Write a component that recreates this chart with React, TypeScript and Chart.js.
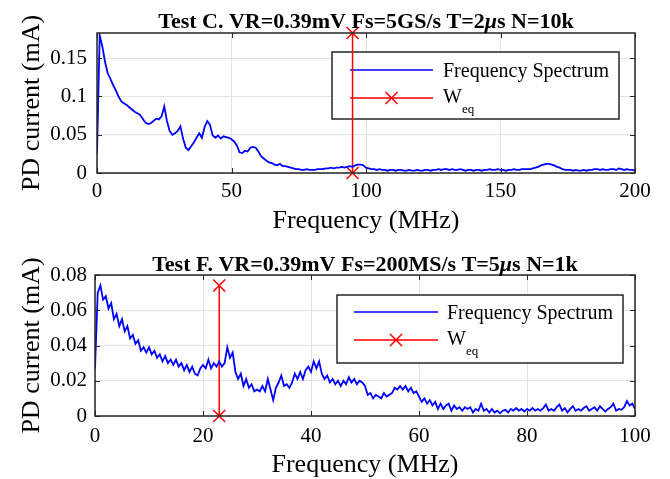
import React, { useEffect, useRef } from "react";
import { Chart, registerables } from "chart.js";
Chart.register(...registerables);

// ---------------- DATA ----------------
// Test C: spectrum sampled every 1 MHz from 0 to 200 MHz (values in mA)
const TOP_STEP_MHZ = 1;
const topSpectrum = [
  0.025, 0.18, 0.165, 0.145, 0.13, 0.123, 0.115, 0.108, 0.1, 0.094,
  0.091, 0.089, 0.086, 0.083, 0.08, 0.078, 0.076, 0.071, 0.066, 0.064,
  0.065, 0.068, 0.071, 0.07, 0.074, 0.087, 0.068, 0.055, 0.05, 0.052,
  0.055, 0.061, 0.045, 0.033, 0.03, 0.035, 0.04, 0.046, 0.052, 0.046,
  0.06, 0.068, 0.063, 0.049, 0.046, 0.049, 0.045, 0.048, 0.047, 0.046,
  0.044, 0.041, 0.036, 0.027, 0.026, 0.029, 0.028, 0.033, 0.034, 0.033,
  0.028, 0.022, 0.019, 0.016, 0.014, 0.013, 0.011, 0.01, 0.012, 0.009,
  0.009, 0.008, 0.007, 0.006, 0.005, 0.005, 0.004, 0.004, 0.005, 0.004,
  0.004, 0.004, 0.005, 0.005, 0.005, 0.006, 0.006, 0.007, 0.006, 0.007,
  0.007, 0.008, 0.007, 0.008, 0.009, 0.008, 0.01, 0.011, 0.011, 0.01,
  0.007, 0.006, 0.005, 0.005, 0.004, 0.005, 0.004, 0.004, 0.003, 0.004,
  0.004, 0.003, 0.004, 0.004, 0.003, 0.003, 0.004, 0.003, 0.003, 0.004,
  0.003, 0.003, 0.004, 0.004, 0.003, 0.004, 0.004, 0.005, 0.004, 0.005,
  0.005, 0.004, 0.005, 0.004, 0.004, 0.005, 0.004, 0.003, 0.004, 0.004,
  0.003, 0.004, 0.004, 0.003, 0.004, 0.004, 0.005, 0.004, 0.004, 0.005,
  0.004, 0.004, 0.003, 0.004, 0.004, 0.005, 0.004, 0.004, 0.005, 0.005,
  0.005, 0.005, 0.006, 0.007, 0.008, 0.01, 0.011, 0.012, 0.012, 0.011,
  0.01, 0.008, 0.007, 0.005, 0.004, 0.004, 0.004, 0.003, 0.004, 0.003,
  0.003, 0.004, 0.003, 0.004, 0.004, 0.005, 0.005, 0.004, 0.005, 0.004,
  0.004, 0.005, 0.005, 0.004, 0.006, 0.005, 0.004, 0.005, 0.004, 0.004,
  0.003,
];
const TOP_WEQ_MHZ = 95;
const TOP_Y_MAX = 0.183;
const topXTicks = [0, 50, 100, 150, 200];
const topYTicks = [0, 0.05, 0.1, 0.15];
const topTitle = ["Test C. VR=0.39mV Fs=5GS/s T=2", "\u03bc", "s N=10k"];

// Test F: spectrum sampled every 0.5 MHz from 0 to 100 MHz (values in mA)
const BOTTOM_STEP_MHZ = 0.5;
const bottomSpectrum = [
  0.027, 0.07, 0.074, 0.066, 0.068, 0.061, 0.064, 0.055, 0.058, 0.051,
  0.055, 0.048, 0.051, 0.044, 0.046, 0.041, 0.043, 0.037, 0.039, 0.036,
  0.039, 0.035, 0.037, 0.033, 0.035, 0.031, 0.034, 0.03, 0.032, 0.029,
  0.032, 0.028, 0.03, 0.026, 0.029, 0.025, 0.028, 0.024, 0.023, 0.027,
  0.029, 0.027, 0.032, 0.027, 0.03, 0.028, 0.031, 0.028, 0.03, 0.039,
  0.033, 0.036, 0.025, 0.021, 0.024, 0.017, 0.021, 0.016, 0.018, 0.014,
  0.015, 0.014, 0.017, 0.014, 0.021, 0.015, 0.009, 0.016, 0.019, 0.023,
  0.017, 0.018, 0.016, 0.019, 0.024, 0.021, 0.025, 0.021, 0.026, 0.028,
  0.025, 0.031, 0.027, 0.031, 0.024, 0.021, 0.023, 0.019, 0.021, 0.018,
  0.02, 0.017, 0.02, 0.018, 0.022, 0.019, 0.021, 0.018, 0.02, 0.019,
  0.017, 0.012, 0.013, 0.01, 0.012, 0.011, 0.01, 0.013, 0.011, 0.012,
  0.013, 0.016, 0.015, 0.017, 0.015, 0.017, 0.014, 0.016, 0.013, 0.014,
  0.011, 0.008, 0.01, 0.007, 0.009, 0.006, 0.008, 0.004, 0.007, 0.004,
  0.006, 0.007, 0.003, 0.006, 0.004, 0.005, 0.003, 0.005, 0.004, 0.005,
  0.002, 0.004, 0.003, 0.007, 0.003, 0.004, 0.002, 0.004, 0.002, 0.003,
  0.0015, 0.003, 0.0035, 0.002, 0.004, 0.003, 0.0045, 0.003, 0.004, 0.0025,
  0.004, 0.003, 0.0045, 0.003, 0.004, 0.003, 0.0045, 0.0065, 0.003, 0.004,
  0.003, 0.005, 0.0065, 0.003, 0.0045, 0.002, 0.004, 0.0055, 0.003, 0.004,
  0.003, 0.0045, 0.0055, 0.003, 0.004, 0.005, 0.003, 0.0055, 0.004, 0.0025,
  0.004, 0.005, 0.007, 0.003, 0.004, 0.0035, 0.005, 0.0085, 0.006, 0.007,
  0.004,
];
const BOTTOM_WEQ_MHZ = 23;
const BOTTOM_WEQ_TOP = 0.074;
const BOTTOM_Y_MAX = 0.08;
const bottomXTicks = [0, 20, 40, 60, 80, 100];
const bottomYTicks = [0, 0.02, 0.04, 0.06, 0.08];
const bottomTitle = ["Test F. VR=0.39mV Fs=200MS/s T=5", "\u03bc", "s N=1k"];

const seriesLabel = "Frequency Spectrum";
const xAxisTitle = "Frequency (MHz)";
const yAxisTitle = "PD current (mA)";

// ---------------- STYLE ----------------
const SERIF = "'Liberation Serif', 'Times New Roman', serif";
const FRAME = "#262626";
const GRID = "#e2e2e2";
const BLUE = "#0000ff";
const RED = "#ff0000";
const W = 670;

type PanelCfg = {
  top: number;
  height: number;
  area: { left: number; top: number; right: number; bottom: number };
  titleBaseline: number;
  xTitleBaseline: number;
  yTitleX: number;
  xTickPad: number;
  yTickPad: number;
  legend: {
    left: number; top: number; right: number; bottom: number;
    row1: number; row2: number; lineX1: number; lineX2: number; textX: number;
  };
};

const topCfg: PanelCfg = {
  top: 0,
  height: 240,
  area: { left: 97, top: 33, right: 635, bottom: 173 },
  titleBaseline: 28,
  xTitleBaseline: 228,
  yTitleX: 39,
  xTickPad: 6,
  yTickPad: 10,
  legend: { left: 332, top: 52, right: 619, bottom: 119, row1: 70, row2: 98, lineX1: 350, lineX2: 433, textX: 443 },
};

const bottomCfg: PanelCfg = {
  top: 240,
  height: 239,
  area: { left: 95, top: 35, right: 635, bottom: 176 },
  titleBaseline: 31,
  xTitleBaseline: 232,
  yTitleX: 39,
  xTickPad: 8,
  yTickPad: 8,
  legend: { left: 337, top: 55, right: 623, bottom: 123, row1: 72, row2: 100, lineX1: 354, lineX2: 438, textX: 447 },
};

function drawRich(ctx: CanvasRenderingContext2D, segs: { t: string; f: string }[], cx: number, y: number) {
  let total = 0;
  const widths = segs.map((s) => {
    ctx.font = s.f;
    const w = ctx.measureText(s.t).width;
    total += w;
    return w;
  });
  let x = cx - total / 2;
  ctx.textAlign = "left";
  ctx.textBaseline = "alphabetic";
  segs.forEach((s, i) => {
    ctx.font = s.f;
    ctx.fillText(s.t, x, y);
    x += widths[i];
  });
}

function makePlugin(cfg: PanelCfg, title: string[], xTicks: number[], yTicks: number[]) {
  return {
    id: "panelDecor",
    beforeDatasetsDraw(chart: any) {
      const ctx: CanvasRenderingContext2D = chart.ctx;
      const L = cfg.legend;
      ctx.save();
      ctx.fillStyle = "#fff";
      ctx.fillRect(L.left, L.top, L.right - L.left, L.bottom - L.top);
      ctx.strokeStyle = FRAME;
      ctx.lineWidth = 1.5;
      ctx.strokeRect(L.left, L.top, L.right - L.left, L.bottom - L.top);
      // row 1
      ctx.strokeStyle = BLUE;
      ctx.lineWidth = 1.5;
      ctx.beginPath();
      ctx.moveTo(L.lineX1, L.row1);
      ctx.lineTo(L.lineX2, L.row1);
      ctx.stroke();
      ctx.fillStyle = "#000";
      ctx.font = `20px ${SERIF}`;
      ctx.textAlign = "left";
      ctx.textBaseline = "alphabetic";
      ctx.fillText(seriesLabel, L.textX, L.row1 + 7);
      // row 2
      ctx.strokeStyle = RED;
      ctx.beginPath();
      ctx.moveTo(L.lineX1, L.row2);
      ctx.lineTo(L.lineX2, L.row2);
      const mx = (L.lineX1 + L.lineX2) / 2;
      const r = 6;
      ctx.moveTo(mx - r, L.row2 - r);
      ctx.lineTo(mx + r, L.row2 + r);
      ctx.moveTo(mx - r, L.row2 + r);
      ctx.lineTo(mx + r, L.row2 - r);
      ctx.stroke();
      ctx.font = `20px ${SERIF}`;
      ctx.fillText("W", L.textX, L.row2 + 5);
      const ww = ctx.measureText("W").width;
      ctx.font = `13px ${SERIF}`;
      ctx.fillText("eq", L.textX + ww, L.row2 + 15);
      ctx.restore();
    },
    afterDraw(chart: any) {
      const ctx: CanvasRenderingContext2D = chart.ctx;
      const a = chart.chartArea;
      const xs = chart.scales.x;
      const ys = chart.scales.y;
      ctx.save();
      // inner tick marks
      ctx.strokeStyle = FRAME;
      ctx.lineWidth = 1;
      const tl = 5;
      ctx.beginPath();
      xTicks.forEach((v) => {
        const px = Math.round(xs.getPixelForValue(v)) + 0.5;
        ctx.moveTo(px, a.bottom);
        ctx.lineTo(px, a.bottom - tl);
        ctx.moveTo(px, a.top);
        ctx.lineTo(px, a.top + tl);
      });
      yTicks.forEach((v) => {
        const py = Math.round(ys.getPixelForValue(v)) + 0.5;
        ctx.moveTo(a.left, py);
        ctx.lineTo(a.left + tl, py);
        ctx.moveTo(a.right, py);
        ctx.lineTo(a.right - tl, py);
      });
      ctx.stroke();
      // frame
      ctx.lineWidth = 1.5;
      ctx.strokeRect(a.left, a.top, a.right - a.left, a.bottom - a.top);
      // title
      ctx.fillStyle = "#000";
      const cx = (a.left + a.right) / 2;
      drawRich(
        ctx,
        [
          { t: title[0], f: `bold 22px ${SERIF}` },
          { t: title[1], f: `italic bold 22px ${SERIF}` },
          { t: title[2], f: `bold 22px ${SERIF}` },
        ],
        cx,
        cfg.titleBaseline
      );
      // x axis title
      ctx.font = `26px ${SERIF}`;
      ctx.textAlign = "center";
      ctx.textBaseline = "alphabetic";
      ctx.fillText(xAxisTitle, cx, cfg.xTitleBaseline);
      // y axis title
      ctx.translate(cfg.yTitleX, (a.top + a.bottom) / 2);
      ctx.rotate(-Math.PI / 2);
      ctx.fillText(yAxisTitle, 0, 0);
      ctx.restore();
    },
  };
}

function Panel(props: {
  cfg: PanelCfg;
  spectrum: number[];
  step: number;
  weqX: number;
  weqTop: number;
  yMax: number;
  xTicks: number[];
  yTicks: number[];
  title: string[];
}) {
  const ref = useRef<HTMLCanvasElement | null>(null);
  const { cfg } = props;
  useEffect(() => {
    if (!ref.current) return;
    const xMax = props.xTicks[props.xTicks.length - 1];
    const chart = new Chart(ref.current, {
      type: "line",
      data: {
        datasets: [
          {
            label: seriesLabel,
            data: props.spectrum.map((v, i) => ({ x: i * props.step, y: v })),
            borderColor: BLUE,
            borderWidth: 1.8,
            pointRadius: 0,
            tension: 0,
            fill: false,
          },
          {
            label: "Weq",
            data: [
              { x: props.weqX, y: 0 },
              { x: props.weqX, y: props.weqTop },
            ],
            borderColor: RED,
            borderWidth: 1.5,
            pointStyle: "crossRot",
            pointRadius: 8.5,
            pointBorderWidth: 1.5,
            pointBorderColor: RED,
            pointBackgroundColor: RED,
            clip: false as any,
          },
        ],
      },
      options: {
        animation: false,
        responsive: false,
        maintainAspectRatio: false,
        devicePixelRatio: 1,
        layout: {
          padding: { left: 0, right: W - cfg.area.right, top: cfg.area.top, bottom: 0 },
        },
        plugins: {
          legend: { display: false },
          title: { display: false },
          tooltip: { enabled: false },
        },
        scales: {
          x: {
            type: "linear",
            min: 0,
            max: xMax,
            afterFit: (s: any) => {
              s.height = cfg.height - cfg.area.bottom;
            },
            afterBuildTicks: (s: any) => {
              s.ticks = props.xTicks.map((v) => ({ value: v }));
            },
            grid: { color: GRID, lineWidth: 1, drawTicks: false },
            border: { display: false },
            ticks: {
              autoSkip: false,
              maxRotation: 0,
              padding: cfg.xTickPad,
              color: "#000",
              font: { family: SERIF, size: 21 },
              callback: (v: any) => String(v),
            },
          },
          y: {
            type: "linear",
            min: 0,
            max: props.yMax,
            afterFit: (s: any) => {
              s.width = cfg.area.left;
            },
            afterBuildTicks: (s: any) => {
              s.ticks = props.yTicks.map((v) => ({ value: v }));
            },
            grid: { color: GRID, lineWidth: 1, drawTicks: false },
            border: { display: false },
            ticks: {
              autoSkip: false,
              padding: cfg.yTickPad,
              color: "#000",
              font: { family: SERIF, size: 21 },
              callback: (v: any) => String(v),
            },
          },
        },
      } as any,
      plugins: [makePlugin(cfg, props.title, props.xTicks, props.yTicks)],
    });
    return () => chart.destroy();
  }, []);
  return (
    <canvas
      ref={ref}
      width={W}
      height={cfg.height}
      style={{ position: "absolute", left: 0, top: cfg.top, width: W, height: cfg.height }}
    />
  );
}

export default function App() {
  return (
    <div style={{ position: "absolute", left: 0, top: 0, width: W, height: 479, background: "#fff", overflow: "hidden" }}>
      <Panel
        cfg={topCfg}
        spectrum={topSpectrum}
        step={TOP_STEP_MHZ}
        weqX={TOP_WEQ_MHZ}
        weqTop={TOP_Y_MAX}
        yMax={TOP_Y_MAX}
        xTicks={topXTicks}
        yTicks={topYTicks}
        title={topTitle}
      />
      <Panel
        cfg={bottomCfg}
        spectrum={bottomSpectrum}
        step={BOTTOM_STEP_MHZ}
        weqX={BOTTOM_WEQ_MHZ}
        weqTop={BOTTOM_WEQ_TOP}
        yMax={BOTTOM_Y_MAX}
        xTicks={bottomXTicks}
        yTicks={bottomYTicks}
        title={bottomTitle}
      />
    </div>
  );
}
